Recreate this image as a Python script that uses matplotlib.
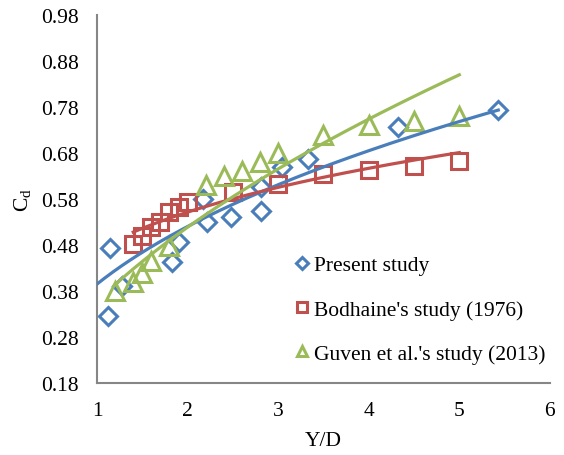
import matplotlib
matplotlib.use("Agg")
import matplotlib.pyplot as plt
import numpy as np

plt.rcParams["font.family"] = ["Liberation Serif", "DejaVu Serif"]
plt.rcParams["mathtext.fontset"] = "custom"
plt.rcParams["mathtext.rm"] = "Liberation Serif"
plt.rcParams["mathtext.it"] = "Liberation Serif:italic"

# data
present_x = [1.12, 1.14, 1.28, 1.83, 1.90, 2.17, 2.21, 2.48, 2.81, 2.81, 3.04, 3.33, 4.32, 5.43]
present_y = [0.326, 0.473, 0.39, 0.443, 0.486, 0.58, 0.53, 0.54, 0.554, 0.606, 0.65, 0.667, 0.736, 0.773]

bodhaine_x = [1.4, 1.5, 1.6, 1.7, 1.8, 1.9, 2.0, 2.5, 3.0, 3.5, 4.0, 4.5, 5.0]
bodhaine_y = [0.482, 0.50, 0.519, 0.53, 0.552, 0.563, 0.573, 0.595, 0.613, 0.635, 0.643, 0.652, 0.663]

guven_x = [1.2, 1.4, 1.5, 1.6, 1.8, 2.2, 2.4, 2.6, 2.8, 3.0, 3.5, 4.0, 4.5, 5.0]
guven_y = [0.38, 0.40, 0.42, 0.445, 0.478, 0.61, 0.63, 0.64, 0.66, 0.68, 0.72, 0.74, 0.75, 0.76]

# power trendline of the present study (y = a * x^b, from x = 1)
present_trend = (0.395, 0.397)

labels = ["Present study", "Bodhaine's study (1976)", "Guven et al.'s study (2013)"]
colors = ["#4A7EBB", "#C0504D", "#9BBB59"]
markers = ["D", "s", "^"]
msizes = [9.5, 11.5, 13]

yticks = [0.18, 0.28, 0.38, 0.48, 0.58, 0.68, 0.78, 0.88, 0.98]
xticks = [1, 2, 3, 4, 5, 6]


def power_fit(x, y):
    # power trendline like the spreadsheet one: y = a * x^b
    b, lna = np.polyfit(np.log(x), np.log(y), 1)
    return np.exp(lna), b


fig = plt.figure(figsize=(5.64, 4.56), dpi=100)
ax = fig.add_axes([0.172, 0.158, 0.803, 0.807])

series = [(present_x, present_y), (bodhaine_x, bodhaine_y), (guven_x, guven_y)]
trends = [present_trend, power_fit(bodhaine_x, bodhaine_y), power_fit(guven_x, guven_y)]
starts = [1.0, min(bodhaine_x), min(guven_x)]
for (x, y), (a, b), c, x0 in zip(series, trends, colors, starts):
    xx = np.linspace(x0, max(x), 200)
    ax.plot(xx, a * xx ** b, color=c, lw=2.3, zorder=3)
for (x, y), lab, c, m, ms in zip(series, labels, colors, markers, msizes):
    ax.plot(x, y, ls="none", marker=m, ms=ms, mfc="none", mec=c, mew=2.2,
            label=lab, zorder=2)

ax.set_xlim(1, 6)
ax.set_ylim(0.18, 0.98)
ax.set_xticks(xticks)
ax.set_yticks(yticks)
ax.set_yticklabels(["%.2f" % v for v in yticks])
ax.tick_params(labelsize=15.5, length=0)
ax.tick_params(axis="y", pad=13)
ax.tick_params(axis="x", pad=13)
for s in ["top", "right"]:
    ax.spines[s].set_visible(False)
for s in ["left", "bottom"]:
    ax.spines[s].set_color("#868686")
    ax.spines[s].set_linewidth(1.5)

ax.set_xlabel("Y/D", fontsize=15.5, labelpad=8)
ax.set_ylabel(r"C$_\mathrm{d}$", fontsize=15.5, labelpad=6)

ax.legend(loc="upper left", bbox_to_anchor=(0.42, 0.37), frameon=False,
          fontsize=15.5, markerscale=0.6, handlelength=0.6, handletextpad=0.25,
          labelspacing=1.12, borderaxespad=0)

fig.savefig("out.png", dpi=100)
